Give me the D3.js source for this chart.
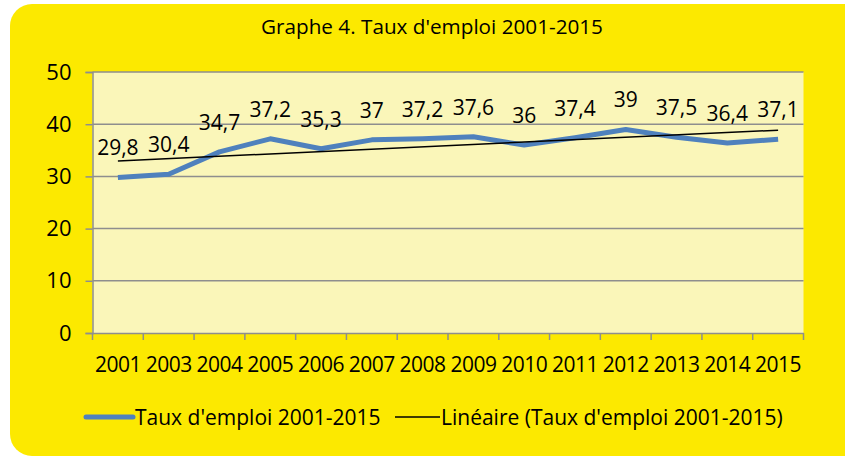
<!DOCTYPE html>
<html>
<head>
<meta charset="utf-8">
<script src="https://cdn.jsdelivr.net/npm/d3@7"></script>
<style>
  body { margin: 0; background: #fff; }
  svg { display: block; font-family: 'Open Sans', sans-serif; }
</style>
</head>
<body>
<svg id="chart" width="845" height="458"></svg>
<script>
var years = ['2001', '2003', '2004', '2005', '2006', '2007', '2008', '2009', '2010', '2011', '2012', '2013', '2014', '2015'];
var rates = [29.8, 30.4, 34.7, 37.2, 35.3, 37, 37.2, 37.6, 36, 37.4, 39, 37.5, 36.4, 37.1];
var yTicks = [0, 10, 20, 30, 40, 50];

var svg = d3.select('#chart');

// yellow panel with rounded corners
svg.append('rect')
    .attr('x', 10).attr('y', 4)
    .attr('width', 860).attr('height', 452)
    .attr('rx', 22)
    .attr('fill', '#fce900');

svg.append('text')
    .attr('x', 432).attr('y', 34)
    .attr('text-anchor', 'middle')
    .attr('font-size', 20.7)
    .attr('fill', '#000')
    .text("Graphe 4. Taux d'emploi 2001-2015");

var pLeft = 92.5, pRight = 803.5, pTop = 72, pBottom = 333;

var x = d3.scaleBand().domain(years).range([pLeft, pRight]);
var y = d3.scaleLinear().domain([0, 50]).range([pBottom, pTop]);

svg.append('rect')
    .attr('x', pLeft).attr('y', pTop)
    .attr('width', pRight - pLeft).attr('height', pBottom - pTop)
    .attr('fill', '#faf6b9');

// gridlines
svg.append('g').selectAll('line')
    .data(yTicks.filter(function (d) { return d > 0; }))
    .enter().append('line')
    .attr('x1', pLeft).attr('x2', pRight)
    .attr('y1', function (d) { return y(d); })
    .attr('y2', function (d) { return y(d); })
    .attr('stroke', '#8e8e8e')
    .attr('stroke-width', 1.5);

var yAxis = svg.append('g')
    .attr('transform', 'translate(' + pLeft + ',0)')
    .call(d3.axisLeft(y).tickValues(yTicks).tickSize(7).tickPadding(14));
yAxis.selectAll('text').attr('font-size', 22).attr('fill', '#000').attr('font-family', 'Open Sans');
yAxis.selectAll('line, path').attr('stroke', '#8e8e8e').attr('stroke-width', 1.5);

var xAxis = svg.append('g')
    .attr('transform', 'translate(0,' + pBottom + ')')
    .call(d3.axisBottom(x).tickSize(0).tickPadding(24));
xAxis.selectAll('text').attr('font-size', 21).attr('fill', '#000').attr('font-family', 'Open Sans')
    .attr('letter-spacing', -0.5);
xAxis.select('path').attr('stroke', '#8e8e8e').attr('stroke-width', 1.5);

// tick marks on band boundaries
var bounds = years.map(function (d) { return x(d); }).concat([pRight]);
xAxis.selectAll('.bound')
    .data(bounds)
    .enter().append('line')
    .attr('class', 'bound')
    .attr('x1', function (d) { return d; }).attr('x2', function (d) { return d; })
    .attr('y1', 0).attr('y2', 7)
    .attr('stroke', '#8e8e8e').attr('stroke-width', 1.5);

var cx = function (d, i) { return x(years[i]) + x.bandwidth() / 2; };

var line = d3.line()
    .x(function (d, i) { return cx(d, i); })
    .y(function (d) { return y(d); });

svg.append('path')
    .datum(rates)
    .attr('d', line)
    .attr('fill', 'none')
    .attr('stroke', '#4f81bd')
    .attr('stroke-width', 5)
    .attr('stroke-linejoin', 'round');

// linear trend (least squares on category index)
var n = rates.length;
var mx = d3.mean(d3.range(n)), my = d3.mean(rates);
var sxy = d3.sum(rates, function (v, i) { return (i - mx) * (v - my); });
var sxx = d3.sum(d3.range(n), function (i) { return (i - mx) * (i - mx); });
var slope = sxy / sxx, icpt = my - slope * mx;
var trend = [icpt, icpt + slope * (n - 1)];

svg.append('line')
    .attr('x1', cx(0, 0)).attr('x2', cx(0, n - 1))
    .attr('y1', y(trend[0])).attr('y2', y(trend[1]))
    .attr('stroke', '#000')
    .attr('stroke-width', 1.5);

svg.append('g').selectAll('text')
    .data(rates)
    .enter().append('text')
    .attr('x', function (d, i) { return cx(d, i); })
    .attr('y', function (d) { return y(d) - 22; })
    .attr('text-anchor', 'middle')
    .attr('font-size', 21)
    .attr('fill', '#000')
    .text(function (d) { return String(d).replace('.', ','); });

// legend
var legend = svg.append('g').attr('transform', 'translate(0,417)');
legend.append('line')
    .attr('x1', 86).attr('x2', 133).attr('y1', 0).attr('y2', 0)
    .attr('stroke', '#4f81bd').attr('stroke-width', 5).attr('stroke-linecap', 'round');
legend.append('text')
    .attr('x', 135).attr('y', 7.5)
    .attr('font-size', 21).attr('fill', '#000')
    .text("Taux d'emploi 2001-2015");
legend.append('line')
    .attr('x1', 395).attr('x2', 440).attr('y1', 0).attr('y2', 0)
    .attr('stroke', '#000').attr('stroke-width', 1.5);
legend.append('text')
    .attr('x', 441).attr('y', 7.5)
    .attr('font-size', 21).attr('fill', '#000')
    .text("Linéaire (Taux d'emploi 2001-2015)");
</script>
</body>
</html>
